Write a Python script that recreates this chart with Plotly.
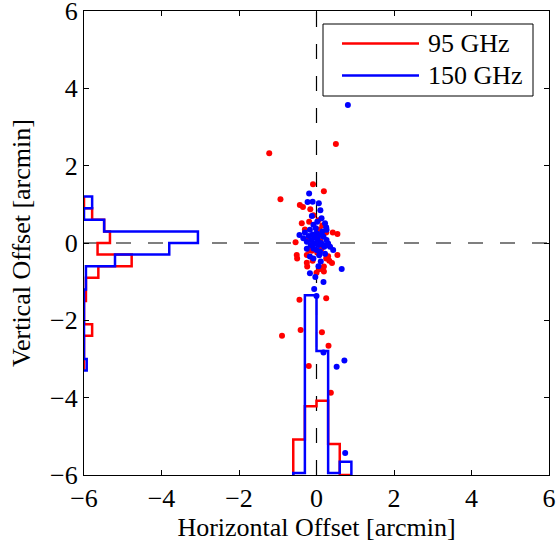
import plotly.graph_objects as go

# ---------------- data ----------------
red_x = [0.50, -1.22, -0.09, 0.19, -0.93, -0.43, -0.35, -0.16, -0.08, -0.38, -0.19, 0.05,
         0.07, 0.25, 0.42, 0.54, -0.54, -0.21, 0.13, -0.51, -0.50, -0.25, -0.25, -0.24,
         -0.10, 0.25, 0.33, 0.30, 0.54, 0.19, 0.07, 0.19, -0.44, 0.25, -0.89, -0.41,
         0.14, 0.31, -0.20, 0.37, -0.02, 0.10, -0.12, 0.02, 0.15, -0.30, -0.14, -0.19,
         0.00, 0.40]
red_y = [2.56, 2.32, 1.52, 1.34, 1.13, 0.98, 0.93, 0.87, 0.72, 0.51, 0.55, 0.59,
         0.35, 0.27, 0.27, 0.23, 0.02, 0.10, -0.14, -0.31, -0.40, -0.31, -0.51, -0.61,
         -0.46, -0.40, -0.46, -0.34, -0.31, -0.61, -0.68, -0.74, -1.47, -1.43, -2.40, -2.25,
         -2.31, -2.66, -3.18, -3.87, 0.20, 0.05, -0.20, -0.25, 0.45, 0.35, -0.10, -0.18,
         -0.77, -0.52]

blue_x = [0.81, -0.19, -0.23, -0.10, 0.06, 0.13, 0.22, -0.08, -0.17, 0.00, 0.09, 0.18,
          0.26, -0.44, -0.34, -0.25, -0.12, -0.04, 0.05, -0.08, 0.00, 0.09, -0.17, -0.08,
          0.11, 0.43, 0.65, -0.17, 0.18, -0.06, 0.00, 0.18, 0.52, 0.72, 0.74, 0.26,
          0.25, -0.30, -0.05, 0.03, 0.12, -0.15, 0.20, -0.20, 0.15, -0.02, 0.07, -0.25,
          0.30, 0.02, 0.10, -0.12, 0.05, -0.03, 0.35, 0.30, 0.18, -0.10, 0.22]
blue_y = [3.57, 1.28, 1.06, 1.07, 1.03, 0.64, 0.51, 0.47, 0.34, 0.25, 0.21, 0.16,
          0.08, 0.21, 0.12, 0.03, 0.08, -0.01, -0.05, -0.14, -0.18, -0.22, -0.35, -0.40,
          -0.48, -0.18, -0.67, -0.78, -1.01, -1.19, -1.37, -2.83, -3.20, -3.04, -5.43, 0.34,
          0.41, 0.27, 0.15, 0.10, 0.00, -0.05, -0.10, 0.18, 0.30, 0.38, -0.32, -0.15,
          -0.05, 0.55, 0.85, 0.70, -0.60, -0.88, -0.10, -0.01, -0.05, 0.22, -0.28]

# histogram of vertical offset (drawn along the left edge)
vert_edges = [-3.3, -3.0, -2.7, -2.4, -2.1, -1.8, -1.5, -1.2, -0.9, -0.6, -0.3, 0.0, 0.3, 0.6, 0.9, 1.2]
vert_red = [0, 0, 0, 0.21, 0, 0, 0.05, 0.05, 0.37, 1.23, 0.35, 0.67, 0.52, 0.21, 0]
vert_blue = [0.07, 0, 0, 0, 0, 0, 0, 0.05, 0.05, 0.80, 2.20, 2.94, 0.52, 0, 0.21]

# histogram of horizontal offset (drawn along the bottom edge)
horiz_edges = [-0.6, -0.3, 0.0, 0.3, 0.6, 0.9]
horiz_red = [0.92, 1.78, 1.92, 0.80, 0]
horiz_blue = [0.05, 4.65, 3.21, 0.05, 0.34]

series_names = ["95 GHz", "150 GHz"]
xticks = [-6, -4, -2, 0, 2, 4, 6]
yticks = [-6, -4, -2, 0, 2, 4, 6]

AX_MIN, AX_MAX = -6, 6
RED = "#ff0000"
BLUE = "#0000ff"
FONT = "Liberation Serif"
FS = 26

W, H = 557, 545
ML, MR, MT, MB = 84, 8, 11, 70


def px_to_paper(px, py):
    return (px - ML) / (W - ML - MR), (H - MB - py) / (H - MT - MB)


def stairs(edges, vals, base):
    """outline of a histogram: returns (along, across) coordinates"""
    along = [edges[0]]
    across = [base]
    for i, v in enumerate(vals):
        along += [edges[i], edges[i + 1]]
        across += [base + v, base + v]
    along.append(edges[-1])
    across.append(base)
    return along, across


fig = go.Figure()

# reference lines
for xs, ys in [([AX_MIN, AX_MAX], [0, 0]), ([0, 0], [AX_MIN, AX_MAX])]:
    fig.add_trace(go.Scatter(x=xs, y=ys, mode="lines",
                             line=dict(color="black", width=1.2, dash="15px,17px"),
                             showlegend=False, hoverinfo="skip"))

# scatter points
fig.add_trace(go.Scatter(x=red_x, y=red_y, mode="markers", name=series_names[0],
                         marker=dict(color=RED, size=6, line=dict(width=0)),
                         showlegend=False))
fig.add_trace(go.Scatter(x=blue_x, y=blue_y, mode="markers", name=series_names[1],
                         marker=dict(color=BLUE, size=6, line=dict(width=0)),
                         showlegend=False))

# histograms
for vals_v, vals_h, color, name in [(vert_red, horiz_red, RED, series_names[0]),
                                    (vert_blue, horiz_blue, BLUE, series_names[1])]:
    ya, xa = stairs(vert_edges, vals_v, AX_MIN)
    fig.add_trace(go.Scatter(x=xa, y=ya, mode="lines", line=dict(color=color, width=2.5),
                             name=name, showlegend=False))
    xb, yb = stairs(horiz_edges, vals_h, AX_MIN)
    fig.add_trace(go.Scatter(x=xb, y=yb, mode="lines", line=dict(color=color, width=2.5),
                             name=name, showlegend=False))

# legend (MATLAB style: long line samples inside a boxed frame)
bx0, by0 = px_to_paper(323, 96)
bx1, by1 = px_to_paper(533, 24)
shapes = [dict(type="rect", xref="paper", yref="paper", x0=bx0, y0=by0, x1=bx1, y1=by1,
               line=dict(color="black", width=1), fillcolor="white", layer="above")]
annotations = []
for (name, color), row_py in zip(zip(series_names, [RED, BLUE]), [43.5, 75.5]):
    lx0, ly = px_to_paper(342, row_py)
    lx1, _ = px_to_paper(419, row_py)
    shapes.append(dict(type="line", xref="paper", yref="paper", x0=lx0, x1=lx1, y0=ly, y1=ly,
                       line=dict(color=color, width=2.5), layer="above"))
    tx, ty = px_to_paper(426, row_py)
    annotations.append(dict(text=name, xref="paper", yref="paper", x=tx, y=ty,
                            xanchor="left", yanchor="middle", showarrow=False,
                            font=dict(family=FONT, size=FS, color="black")))

axis_common = dict(range=[AX_MIN, AX_MAX], showgrid=False, zeroline=False,
                   showline=True, linecolor="black", linewidth=1.3,
                   ticks="inside", ticklen=5, tickwidth=1, tickcolor="black",
                   mirror="ticks", ticklabeloverflow="allow", automargin=False,
                   tickfont=dict(family=FONT, size=FS, color="black"))

fig.update_layout(
    width=W, height=H,
    margin=dict(l=ML, r=MR, t=MT, b=MB, autoexpand=False),
    plot_bgcolor="white", paper_bgcolor="white",
    font=dict(family=FONT, size=FS, color="black"),
    xaxis=dict(**axis_common, tickvals=xticks, ticktext=[str(t).replace("-", "\u2212") for t in xticks],
               title=dict(text="Horizontal Offset [arcmin]", font=dict(family=FONT, size=FS), standoff=4)),
    yaxis=dict(**axis_common, tickvals=yticks, ticktext=[str(t).replace("-", "\u2212") for t in yticks],
               title=dict(text="Vertical Offset [arcmin]", font=dict(family=FONT, size=FS), standoff=11)),
    shapes=shapes,
    annotations=annotations,
    showlegend=False,
)

fig.write_html("out.html")
